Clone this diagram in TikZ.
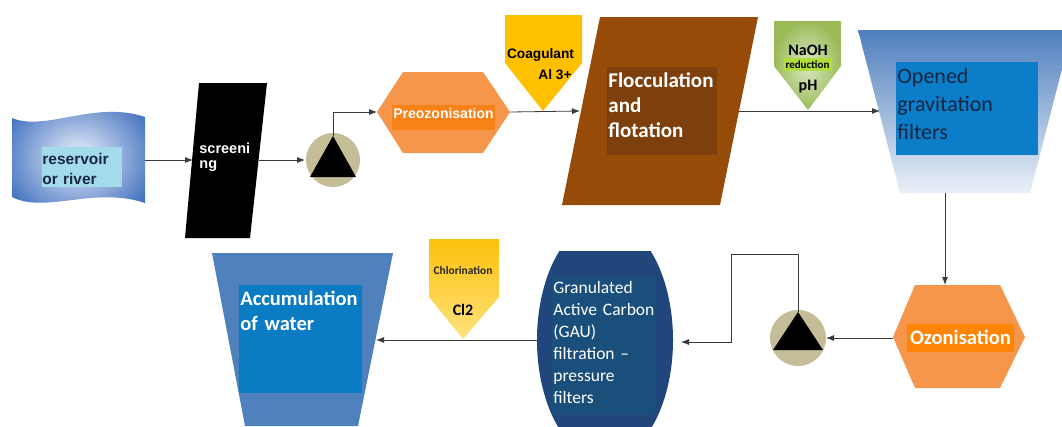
\documentclass[tikz,border=0pt]{standalone}
\usepackage{fontspec}
\setmainfont{Liberation Sans}
\newfontfamily\calibri{Carlito}
\usetikzlibrary{positioning, arrows.meta, calc}

\definecolor{resblue}{HTML}{4674C0}
\definecolor{reslight}{HTML}{CCD9F0}
\definecolor{rescyan}{HTML}{A3DBEA}
\definecolor{navytext}{HTML}{1A2744}
\definecolor{pumptan}{HTML}{C4BD97}
\definecolor{hexorange}{HTML}{F5964B}
\definecolor{preorange}{HTML}{F98218}
\definecolor{ozoorange}{HTML}{FF8509}
\definecolor{coagold}{HTML}{FFC000}
\definecolor{flocbrown}{HTML}{964B08}
\definecolor{flocdark}{HTML}{7D400C}
\definecolor{naohgreen}{HTML}{9BBB59}
\definecolor{naohlight}{HTML}{DCE8C6}
\definecolor{redgreen}{HTML}{B2DE3A}
\definecolor{filttop}{HTML}{4F7FBE}
\definecolor{filtbot}{HTML}{EAF0F8}
\definecolor{filtbox}{HTML}{0B7DC9}
\definecolor{filttext}{HTML}{13263F}
\definecolor{gacnavy}{HTML}{21467B}
\definecolor{gacbox}{HTML}{1B4F7B}
\definecolor{chlgold}{HTML}{FCC10C}
\definecolor{chllight}{HTML}{FFE27E}
\definecolor{accblue}{HTML}{4F81BD}
\definecolor{accbox}{HTML}{0B7BC4}
\definecolor{linegray}{HTML}{3A3A3A}

% radial shading of the reservoir (light centre, blue rim)
\pgfdeclareradialshading{resshade}{\pgfpoint{0bp}{0bp}}{%
  color(0bp)=(reslight); color(6bp)=(reslight);
  color(30bp)=(resblue); color(50bp)=(resblue)}

\begin{document}
\begin{tikzpicture}[x=1pt, y=-1pt, >={Latex[length=8pt, width=6pt]}, line width=0.8pt]

  % --- GENERAL SETTINGS ---
  \path[use as bounding box, fill=white] (0,0) rectangle (1062,426);

  % Style for the flow arrows
  \tikzstyle{flow}=[->, draw=linegray]
  % Style for the coloured boxes behind the texts
  \tikzstyle{panel}=[inner sep=0pt, outer sep=0pt]
  % Style for one-line labels (placed on their baseline)
  \tikzstyle{lbl}=[inner sep=0pt, anchor=base]
  % Style for paragraphs (baseline of the first line)
  \tikzstyle{para}=[inner sep=0pt, anchor=base west, text width=160pt, align=left]

  % --- RESERVOIR ---
  \shade[shading=resshade]
    (12,118) .. controls (45,132) and (95,100) .. (145,117)
    -- (145,203) .. controls (95,186) and (45,214) .. (12,197) -- cycle;
  \node[panel, fill=rescyan, minimum width=80pt, minimum height=40pt] (resBox) at (82,167) {};
  \node[para, text=navytext, font=\fontsize{15.5}{20}\selectfont\bfseries] (resTxt) at (42,164) {reservoir\\or river};
  \coordinate (res-e) at (145,160);

  % --- SCREENING ---
  \fill[black] (199,83) -- (267,83) -- (250,238) -- (185,238) -- cycle;
  \node[para, text=white, font=\fontsize{14.5}{15.5}\selectfont\bfseries] (scrTxt) at (199,153) {screeni\\ng};
  \coordinate (scr-w) at (193,160);
  \coordinate (scr-e) at (259,160);

  % --- PUMP 1 ---
  \fill[pumptan] (333,160) circle (27);
  \fill[black] (333,136) -- (356,177) -- (310,177) -- cycle;
  \coordinate (pmp1-w) at (305,160);
  \coordinate (pmp1-top) at (333,136);

  % --- PREOZONISATION ---
  \fill[hexorange] (377,112) -- (403,72) -- (483,72) -- (510,112) -- (483,153) -- (403,153) -- cycle;
  \node[panel, fill=preorange, minimum width=103pt, minimum height=25pt] (preBox) at (443.5,117.5) {};
  \node[lbl, text=white, font=\fontsize{14}{16}\selectfont\bfseries] (preTxt) at ($(preBox.south)+(0,-12)$) {Preozonisation};
  \coordinate (pre-w) at (377,112);
  \coordinate (pre-e) at (510,112);

  % --- FLOCCULATION ---
  \fill[flocbrown] (600,17) -- (758,17) -- (720,205) -- (562,205) -- cycle;
  \node[panel, fill=flocdark, minimum width=110pt, minimum height=88pt] (flocBox) at (662,111) {};
  \node[para, text=white, font=\calibri\fontsize{21}{25}\selectfont\bfseries] (flocTxt) at (608,87) {Flocculation\\and\\flotation};
  \coordinate (floc-w) at (580,111);
  \coordinate (floc-e) at (739,111);

  % --- COAGULANT ---
  \fill[coagold] (505,15) -- (582,15) -- (582,63) -- (543,111) -- (505,63) -- cycle;
  \node[lbl, font=\fontsize{13.7}{16}\selectfont\bfseries] (coaTxt) at (540.5,58) {Coagulant};
  \node[lbl, font=\fontsize{13.7}{16}\selectfont\bfseries] (alTxt) at (555,79) {Al 3+};

  % --- NaOH ---
  \shade[inner color=naohlight, outer color=naohgreen]
    (774,21) -- (841,21) -- (841,66) -- (808,110) -- (774,66) -- cycle;
  \node[panel, fill=redgreen, minimum width=48pt, minimum height=13pt] (redBox) at (807.5,64.5) {};
  \node[lbl, font=\calibri\fontsize{16}{18}\selectfont\bfseries] (naohTxt) at (808,55) {NaOH};
  \node[lbl, font=\calibri\fontsize{11}{13}\selectfont\bfseries] (redTxt) at (807.5,68.5) {reduction};
  \node[lbl, font=\calibri\fontsize{16}{18}\selectfont\bfseries] (phTxt) at (808,90.5) {pH};

  % --- OPENED GRAVITATION FILTERS ---
  \shade[top color=filttop, bottom color=filtbot]
    (858,30) -- (1062,30) -- (1062,69) -- (1030,193) -- (900,193) -- cycle;
  \node[panel, fill=filtbox, minimum width=142pt, minimum height=93pt] (filtBox) at (967,108.5) {};
  \node[para, text=filttext, font=\calibri\fontsize{22}{28}\selectfont] (filtTxt) at (897,83) {Opened\\gravitation\\filters};
  \coordinate (filt-w) at (880,111);
  \coordinate (filt-s) at (945,193);

  % Arrows of the first row
  \draw[flow] (res-e) -- (scr-w);
  \draw[flow] (scr-e) -- (pmp1-w);
  \draw[flow] (pmp1-top) |- (pre-w);
  \draw[flow] (pre-e) -- (floc-w);
  \draw[flow] (floc-e) -- (filt-w);

  % --- OZONISATION ---
  \fill[hexorange] (893,337) -- (915,285) -- (1000,285) -- (1025,337) -- (1000,388) -- (915,388) -- cycle;
  \node[panel, fill=ozoorange, minimum width=107pt, minimum height=28pt] (ozoBox) at (960.5,338) {};
  \node[lbl, text=white, font=\calibri\fontsize{20.5}{24}\selectfont\bfseries] (ozoTxt) at ($(ozoBox.south)+(0,-8)$) {Ozonisation};
  \coordinate (ozo-n) at (945,285);
  \coordinate (ozo-w) at (893,338);

  % --- PUMP 2 ---
  \fill[pumptan] (798,338) circle (28);
  \fill[black] (798,312) -- (823,350) -- (773,350) -- cycle;
  \coordinate (pmp2-e) at (826,338);
  \coordinate (pmp2-top) at (798,312);
  \coordinate (loop) at (731,254);

  % --- GAC FILTRATION ---
  \begin{scope}
    \clip (520,251) rectangle (690,426);
    \fill[gacnavy] (605,340) ellipse (68 and 120);
  \end{scope}
  \node[panel, fill=gacbox, minimum width=103pt, minimum height=138pt] (gacBox) at (603.5,346) {};
  \node[para, text=white, font=\calibri\fontsize{17.5}{22}\selectfont] (gacTxt) at (553,293)
    {Granulated\\Active Carbon\\(GAU)\\filtration –\\pressure\\filters};
  \coordinate (gac-e) at (681,342);
  \coordinate (gac-w) at (537,340);

  % --- ACCUMULATION ---
  \fill[accblue] (212,253) -- (393,253) -- (358,426) -- (245,426) -- cycle;
  \node[panel, fill=accbox, minimum width=123pt, minimum height=108pt] (accBox) at (300.5,339) {};
  \node[para, text=white, font=\calibri\fontsize{20.5}{25}\selectfont\bfseries] (accTxt) at (240,305) {Accumulation\\of water};
  \coordinate (acc-e) at (376,340);

  % Arrows of the second row
  \draw[flow] (filt-s) -- (ozo-n);
  \draw[flow] (ozo-w) -- (pmp2-e);
  \draw[flow] (pmp2-top) |- (loop) |- (gac-e);
  \draw[flow] (gac-w) -- (acc-e);

  % --- CHLORINATION ---
  \shade[top color=chlgold, bottom color=chllight]
    (429,239) -- (499,239) -- (499,297) -- (463,339) -- (429,297) -- cycle;
  \node[lbl, text=black!85, font=\calibri\fontsize{11.5}{13}\selectfont\bfseries] (chlTxt) at (463,274) {Chlorination};
  \node[lbl, font=\calibri\fontsize{16}{18}\selectfont\bfseries] (clTxt) at (463,315) {Cl2};

\end{tikzpicture}
\end{document}
